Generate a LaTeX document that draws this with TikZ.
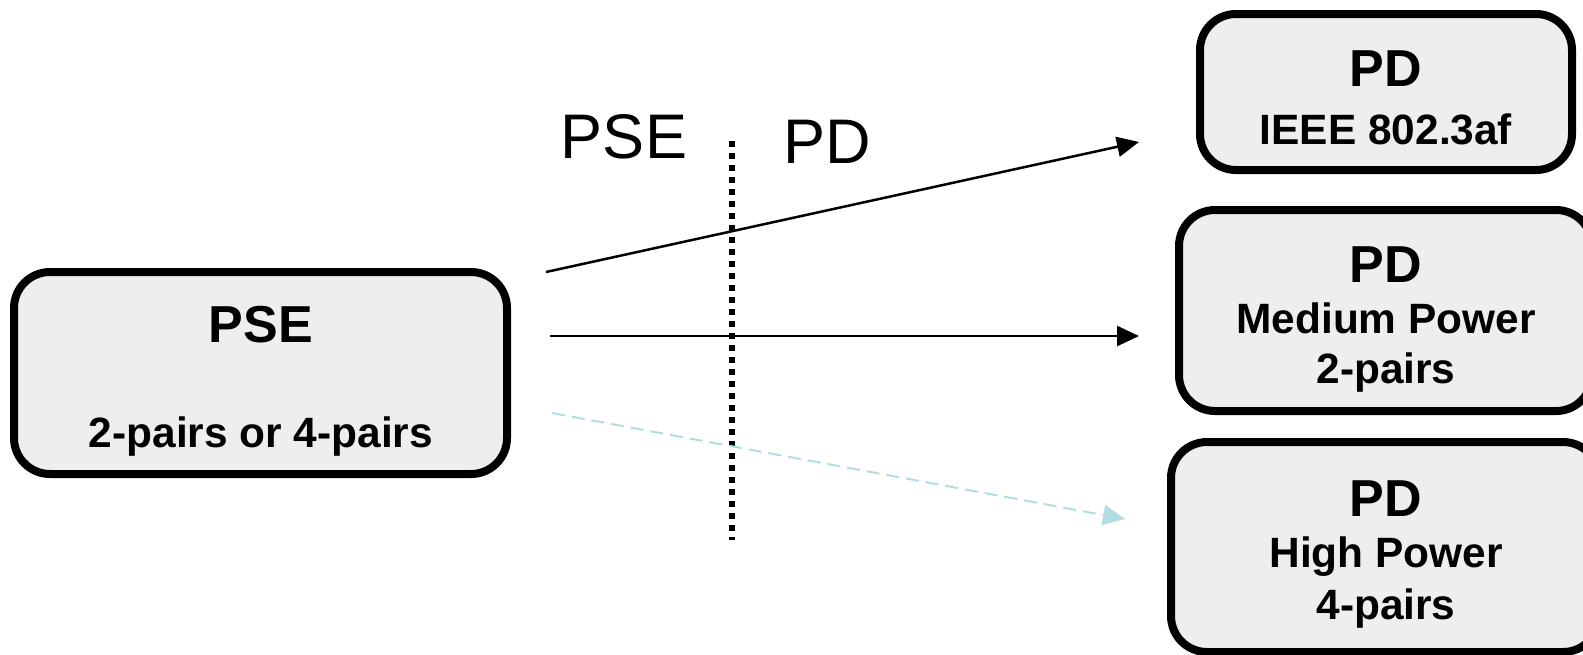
\documentclass[tikz,border=0pt]{standalone}
\usepackage{fontspec}
\setmainfont{Liberation Sans}
\usetikzlibrary{arrows.meta}
\definecolor{boxfill}{RGB}{238,238,238}
\definecolor{lightblue}{RGB}{176,221,228}
\begin{document}
\begin{tikzpicture}[x=0.5pt,y=-0.5pt,
  box/.style={draw=black, line width=4pt, fill=boxfill, rounded corners=18pt, inner sep=0pt},
  big/.style={anchor=base, font=\bfseries\fontsize{26}{30}\selectfont, inner sep=0pt},
  small/.style={anchor=base, font=\bfseries\fontsize{21.2}{25}\selectfont, inner sep=0pt},
  side/.style={anchor=base, font=\fontsize{31.5}{36}\selectfont, inner sep=0pt},
  conn/.style={line width=1.25pt, -{Triangle[length=11pt,width=10pt]}},
  optconn/.style={draw=lightblue, line width=1pt, dash pattern=on 6.5pt off 3.5pt,
                  -{Triangle[length=11pt,width=10pt,fill=lightblue]}},
  divider/.style={line width=3pt, dash pattern=on 3pt off 3pt}]
\useasboundingbox (0,0) rectangle (1583,654);

% boxes
\node[box, minimum width=246.5pt, minimum height=101pt] (pse) at (260.5,373) {};
\node[box, minimum width=186pt, minimum height=78pt] (pd1) at (1386,92) {};
\node[box, minimum width=206.5pt, minimum height=100.5pt] (pd2) at (1385.5,310.5) {};
\node[box, minimum width=214pt, minimum height=105pt] (pd3) at (1385,547) {};

% box texts
\node[big] (pseT) at (261,342) {PSE};
\node[small] (pseS) at (261,447) {2-pairs or 4-pairs};
\node[big] (pd1T) at (1386,86) {PD};
\node[small] (pd1S) at (1386,144) {IEEE 802.3af};
\node[big] (pd2T) at (1386,282) {PD};
\node[small] (pd2S) at (1386,333) {Medium Power};
\node[small] (pd2P) at (1386,383) {2-pairs};
\node[big] (pd3T) at (1386,516) {PD};
\node[small] (pd3S) at (1386,567) {High Power};
\node[small] (pd3P) at (1386,619) {4-pairs};

% side labels
\node[side] (lpse) at (624,158) {PSE};
\node[side] (lpd) at (827,163) {PD};

% divider
\coordinate (dtop) at (732,141);
\coordinate (dbot) at (732,540);
\draw[divider] (dtop) -- (dbot);

% connectors
\coordinate (a1s) at (546,272);
\coordinate (a1e) at (1139,142);
\coordinate (a2s) at (550,336);
\coordinate (a2e) at (1139,336);
\coordinate (a3s) at (552,413);
\coordinate (a3e) at (1125,519);
\draw[conn] (a1s) -- (a1e);
\draw[conn] (a2s) -- (a2e);
\draw[optconn] (a3s) -- (a3e);
\end{tikzpicture}
\end{document}
